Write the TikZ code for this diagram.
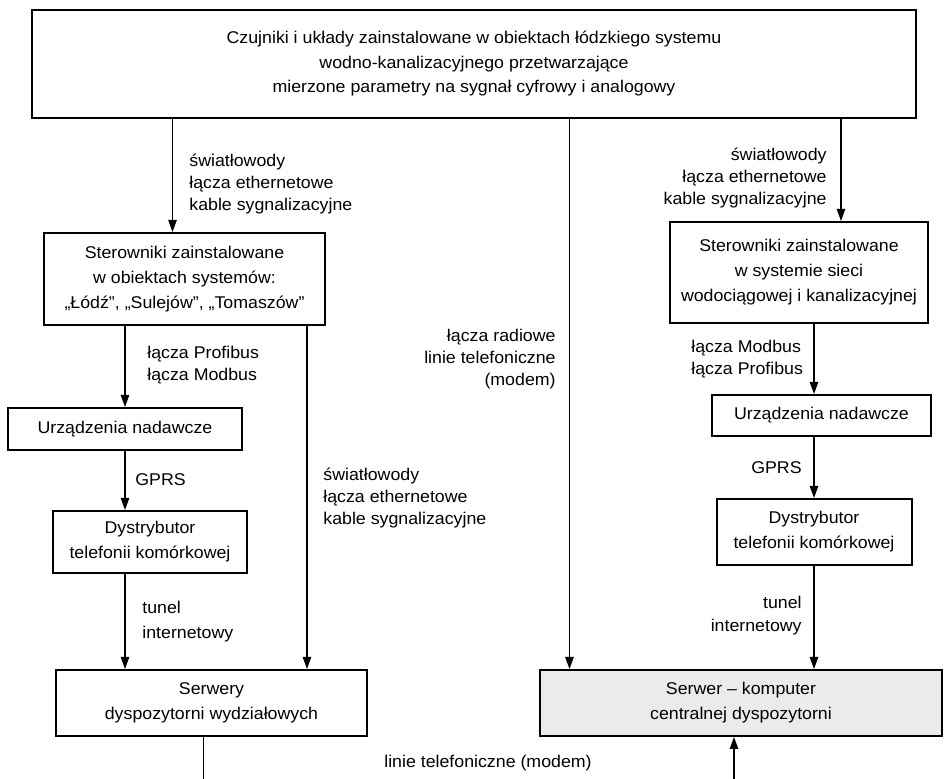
\documentclass[tikz,border=0pt]{standalone}
\usepackage{fontspec}
\setmainfont[FakeStretch=1.045]{Liberation Sans}
\usetikzlibrary{shapes,arrows.meta}
\definecolor{lgray}{RGB}{235,235,235}
\tikzstyle{r} = [rectangle, draw=black, line width=1pt, inner sep=0pt, align=center, font=\fontsize{8.5}{12.5}\selectfont]
\tikzstyle{lbl} = [inner sep=0pt, font=\fontsize{8.5}{11}\selectfont]
\tikzstyle{ar} = [line width=0.6pt, -{Triangle[length=6pt,width=4.2pt]}]

\begin{document}
\begin{tikzpicture}
		\useasboundingbox (0,0) rectangle (474.5pt,-389.5pt);
		\node[r,minimum width=442pt,minimum height=54pt,font=\fontsize{8.5}{12.25}\selectfont](1) at (237pt,-32pt){Czujniki i układy zainstalowane w obiektach łódzkiego systemu\\wodno-kanalizacyjnego przetwarzające\\mierzone parametry na sygnał cyfrowy i analogowy};
		\node[r,minimum width=140.5pt,minimum height=46pt,below of=1,node distance=107.5pt,xshift=-144.75pt](2){Sterowniki zainstalowane\\w obiektach systemów:\\„Łódź”, „Sulejów”, „Tomaszów”};
		\node[r,minimum width=129pt,minimum height=50.5pt,below of=1,node distance=104.25pt,xshift=162.5pt](3){Sterowniki zainstalowane\\w systemie sieci\\wodociągowej i kanalizacyjnej};
		\node[r,minimum width=117pt,minimum height=21pt,below of=2,node distance=75pt,xshift=-29.75pt](4){Urządzenia nadawcze};
		\node[r,minimum width=109.5pt,minimum height=20.5pt,below of=3,node distance=71.5pt,xshift=11.25pt](5){Urządzenia nadawcze};
		\node[r,minimum width=97pt,minimum height=31pt,below of=4,node distance=56.5pt,xshift=12.5pt](6){Dystrybutor\\telefonii komórkowej};
		\node[r,minimum width=97.5pt,minimum height=33pt,below of=5,node distance=58.25pt,xshift=-3.75pt](7){Dystrybutor\\telefonii komórkowej};
		\node[r,minimum width=155.5pt,minimum height=33pt,below of=6,node distance=80.5pt,xshift=30.75pt](8){Serwery\\dyspozytorni wydziałowych};
		\node[r,minimum width=201pt,minimum height=33pt,fill=lgray,right of=8,node distance=264.75pt](9){Serwer – komputer\\centralnej dyspozytorni};
		
		\node[lbl,anchor=west,align=left](l1) at (94.5pt,-92pt){światłowody\\łącza ethernetowe\\kable sygnalizacyjne};
		\node[lbl,anchor=east,align=right](l2) at (413.5pt,-89pt){światłowody\\łącza ethernetowe\\kable sygnalizacyjne};
		\node[lbl,anchor=east,align=right](l3) at (278pt,-179.5pt){łącza radiowe\\linie telefoniczne\\(modem)};
		\node[lbl,anchor=west,align=left](l4) at (73.5pt,-182.5pt){łącza Profibus\\łącza Modbus};
		\node[lbl,anchor=west,align=left](l5) at (345.5pt,-179.5pt){łącza Modbus\\łącza Profibus};
		\node[lbl,anchor=west](l6) at (67.5pt,-240pt){GPRS};
		\node[lbl,anchor=east](l7) at (401pt,-234pt){GPRS};
		\node[lbl,anchor=west,align=left,font=\fontsize{8.5}{12.5}\selectfont](l8) at (71pt,-310.75pt){tunel\\internetowy};
		\node[lbl,anchor=east,align=right,font=\fontsize{8.5}{11.5}\selectfont](l9) at (401pt,-307.75pt){tunel\\internetowy};
		\node[lbl,anchor=west,align=left](l10) at (161.5pt,-249.25pt){światłowody\\łącza ethernetowe\\kable sygnalizacyjne};
		\node[lbl](l11) at (244pt,-381.5pt){linie telefoniczne (modem)};
		
		\draw[ar] ([xshift=-6pt]2.north |- 1.south) -- ([xshift=-6pt]2.north);
		\draw[ar] ([xshift=21pt]3.north |- 1.south) -- ([xshift=21pt]3.north);
		\draw[ar] ([xshift=15.25pt]9.north west |- 1.south) -- ([xshift=15.25pt]9.north west);
		\draw[ar] (4.north |- 2.south) -- (4.north);
		\draw[ar] ([xshift=-9.5pt]2.south east) -- ([xshift=-9.5pt]2.south east |- 8.north);
		\draw[ar] (4.south) -- (4.south |- 6.north);
		\draw[ar] (4.south |- 6.south) -- (4.south |- 8.north);
		\draw[ar] (7.north |- 3.south) -- (7.north |- 5.north);
		\draw[ar] (7.north |- 5.south) -- (7.north);
		\draw[ar] (7.south) -- (7.south |- 9.north);
		\draw[ar] ([xshift=-4pt]8.south) -- ++(0,-40pt) -| ([xshift=-3.5pt]9.south);
		\end{tikzpicture}
\end{document}
